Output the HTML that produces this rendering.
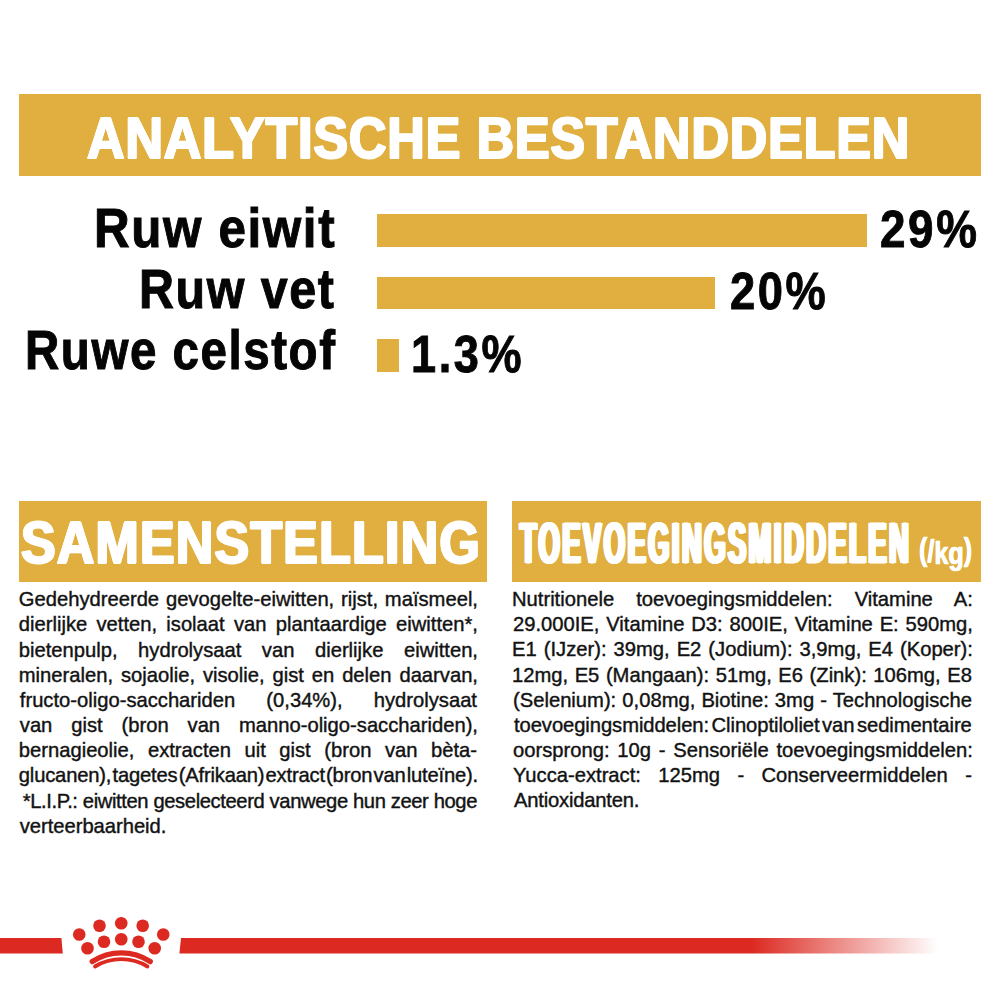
<!DOCTYPE html>
<html><head><meta charset="utf-8"><title>Analytische bestanddelen</title>
<style>
html,body{margin:0;padding:0;background:#fff;}
body{width:1000px;height:1000px;position:relative;overflow:hidden;font-family:"Liberation Sans",Arial,sans-serif;color:#111;}
.gold{position:absolute;background:#E1AF40;}
.hd{position:absolute;white-space:nowrap;color:#fff;font-weight:bold;line-height:1;transform-origin:0 0;}
.lab{position:absolute;white-space:nowrap;color:#050505;font-weight:bold;line-height:1;transform-origin:0 0;}
.ln{position:absolute;white-space:nowrap;font-size:20.2px;line-height:25.17px;letter-spacing:0.0px;color:#121212;-webkit-text-stroke:0.4px #121212;}
.ln.j{text-align:justify;text-align-last:justify;}
</style></head><body>
<div class="gold" style="left:19px;top:94px;width:962.00px;height:81.50px"></div>
<div class="gold" style="left:377px;top:214.25px;width:490.25px;height:32.25px"></div>
<div class="gold" style="left:377px;top:276.5px;width:338.25px;height:32.75px"></div>
<div class="gold" style="left:377px;top:339px;width:22.10px;height:32.80px"></div>
<div class="gold" style="left:18.7px;top:500.9px;width:468.60px;height:81.30px"></div>
<div class="gold" style="left:512.4px;top:501.2px;width:468.60px;height:81.00px"></div>
<div class="hd" style="left:87.03px;top:108.99px;font-size:58.10px;transform:scaleX(0.8935);-webkit-text-stroke:1.8px #fff;text-shadow:0.60px 0 0 #fff,-0.60px 0 0 #fff,1.20px 0 0 #fff,-1.20px 0 0 #fff;letter-spacing:1.0px;">ANALYTISCHE BESTANDDELEN</div>
<div class="hd" style="left:21.02px;top:512.94px;font-size:60.10px;transform:scaleX(0.8620);-webkit-text-stroke:1.8px #fff;text-shadow:0.47px 0 0 #fff,-0.47px 0 0 #fff,0.93px 0 0 #fff,-0.93px 0 0 #fff,1.40px 0 0 #fff,-1.40px 0 0 #fff;letter-spacing:1.5px;">SAMENSTELLING</div>
<div class="hd" style="left:519.90px;top:515.16px;font-size:57.69px;transform:scaleX(0.4708);-webkit-text-stroke:1.0px #fff;text-shadow:0.49px 0 0 #fff,-0.49px 0 0 #fff,0.97px 0 0 #fff,-0.97px 0 0 #fff,1.46px 0 0 #fff,-1.46px 0 0 #fff,1.94px 0 0 #fff,-1.94px 0 0 #fff,2.43px 0 0 #fff,-2.43px 0 0 #fff,2.91px 0 0 #fff,-2.91px 0 0 #fff,3.40px 0 0 #fff,-3.40px 0 0 #fff;letter-spacing:5.5px;">TOEVOEGINGSMIDDELEN</div>
<div class="hd" style="left:918.99px;top:537.41px;font-size:32.00px;transform:scaleX(0.7866);-webkit-text-stroke:0.3px #fff;text-shadow:0.40px 0 0 #fff,-0.40px 0 0 #fff;"><span style="position:relative;top:-4px">(</span><span style="position:relative;top:-2px">/</span>kg<span style="position:relative;top:-4px">)</span></div>
<div class="lab" style="left:94.32px;top:201.04px;font-size:55.00px;transform:scaleX(0.8978);-webkit-text-stroke:1.0px #050505;letter-spacing:1.8px;">Ruw eiwit</div>
<div class="lab" style="left:139.18px;top:262.24px;font-size:55.00px;transform:scaleX(0.8794);-webkit-text-stroke:1.0px #050505;letter-spacing:1.8px;">Ruw vet</div>
<div class="lab" style="left:25.44px;top:323.04px;font-size:55.00px;transform:scaleX(0.8633);-webkit-text-stroke:1.0px #050505;letter-spacing:1.8px;">Ruwe celstof</div>
<div class="lab" style="left:880.08px;top:202.98px;font-size:52.00px;transform:scaleX(0.8805);-webkit-text-stroke:0.9px #050505;letter-spacing:3.0px;">29%</div>
<div class="lab" style="left:730.11px;top:265.38px;font-size:52.00px;transform:scaleX(0.8711);-webkit-text-stroke:0.9px #050505;letter-spacing:3.0px;">20%</div>
<div class="lab" style="left:411.23px;top:327.98px;font-size:52.00px;transform:scaleX(0.8674);-webkit-text-stroke:0.9px #050505;letter-spacing:3.0px;">1.3%</div>
<div class="ln j" style="top:587.22px;left:18.80px;width:459.20px;">Gedehydreerde gevogelte-eiwitten, rijst, maïsmeel,</div>
<div class="ln j" style="top:612.39px;left:18.80px;width:459.20px;">dierlijke vetten, isolaat van plantaardige eiwitten*,</div>
<div class="ln j" style="top:637.56px;left:18.80px;width:459.20px;">bietenpulp, hydrolysaat van dierlijke eiwitten,</div>
<div class="ln j" style="top:662.73px;left:18.80px;width:459.20px;">mineralen, sojaolie, visolie, gist en delen daarvan,</div>
<div class="ln j" style="top:687.90px;left:19.80px;width:457.20px;">fructo-oligo-sacchariden (0,34%), hydrolysaat</div>
<div class="ln j" style="top:713.07px;left:19.80px;width:458.20px;">van gist (bron van manno-oligo-sacchariden),</div>
<div class="ln j" style="top:738.24px;left:18.80px;width:458.20px;">bernagieolie, extracten uit gist (bron van bèta-</div>
<div class="ln" style="top:763.41px;left:18.80px;width:450.40px;letter-spacing:-0.183px;word-spacing:-4.2px;">glucanen), tagetes (Afrikaan) extract (bron van luteïne).</div>
<div class="ln" style="top:788.58px;left:22.70px;width:399.20px;letter-spacing:-0.385px;">*L.I.P.: eiwitten geselecteerd vanwege hun zeer hoge</div>
<div class="ln" style="top:813.75px;left:19.80px;width:457.60px;letter-spacing:-0.030px;">verteerbaarheid.</div>
<div class="ln j" style="top:587.12px;left:512.00px;width:460.90px;">Nutritionele toevoegingsmiddelen: Vitamine A:</div>
<div class="ln j" style="top:612.29px;left:513.00px;width:459.90px;">29.000IE, Vitamine D3: 800IE, Vitamine E: 590mg,</div>
<div class="ln j" style="top:637.46px;left:512.00px;width:460.90px;">E1 (IJzer): 39mg, E2 (Jodium): 3,9mg, E4 (Koper):</div>
<div class="ln j" style="top:662.63px;left:512.00px;width:459.90px;">12mg, E5 (Mangaan): 51mg, E6 (Zink): 106mg, E8</div>
<div class="ln j" style="top:687.80px;left:513.00px;width:458.90px;">(Selenium): 0,08mg, Biotine: 3mg - Technologische</div>
<div class="ln" style="top:712.97px;left:514.00px;width:452.00px;letter-spacing:-0.067px;word-spacing:-3.0px;">toevoegingsmiddelen: Clinoptiloliet van sedimentaire</div>
<div class="ln j" style="top:738.14px;left:513.00px;width:459.90px;">oorsprong: 10g - Sensoriële toevoegingsmiddelen:</div>
<div class="ln j" style="top:763.31px;left:513.00px;width:458.90px;">Yucca-extract: 125mg - Conserveermiddelen -</div>
<div class="ln" style="top:788.48px;left:514.00px;width:457.60px;letter-spacing:-0.193px;">Antioxidanten.</div>
<svg style="position:absolute;left:0;top:0" width="1000" height="1000" viewBox="0 0 1000 1000">
<defs><linearGradient id="fade" gradientUnits="userSpaceOnUse" x1="752" y1="0" x2="938" y2="0"><stop offset="0" stop-color="#DC2A22"/><stop offset="1" stop-color="#DC2A22" stop-opacity="0"/></linearGradient></defs>
<polygon fill="#DC2A22" points="0,938 61.4,938 62.8,953.4 0,953.4"/>
<polygon fill="url(#fade)" points="181,938 938,938 938,953.4 179.4,953.4"/>
<g fill="#DC2A22">
<circle cx="79.25" cy="934.5" r="6.3"/><circle cx="99.5" cy="925.8" r="6.3"/><circle cx="121.25" cy="923.25" r="6.3"/><circle cx="142.7" cy="925.8" r="6.3"/><circle cx="163.25" cy="934.5" r="6.3"/>
<circle cx="87.5" cy="948.3" r="6.3"/><circle cx="104" cy="941.7" r="6.3"/><circle cx="121.25" cy="939.3" r="6.3"/><circle cx="138.5" cy="941.7" r="6.3"/><circle cx="154.7" cy="948.3" r="6.3"/>
</g>
<g fill="none" stroke="#DC2A22" stroke-linecap="round">
<path d="M92.3 961.6 A52.5 52.5 0 0 1 150.2 961.6" stroke-width="5.4"/>
<path d="M95.0 966.5 A50.7 50.7 0 0 1 147.5 966.5" stroke-width="3.8"/>
</g>
</svg>
</body></html>
